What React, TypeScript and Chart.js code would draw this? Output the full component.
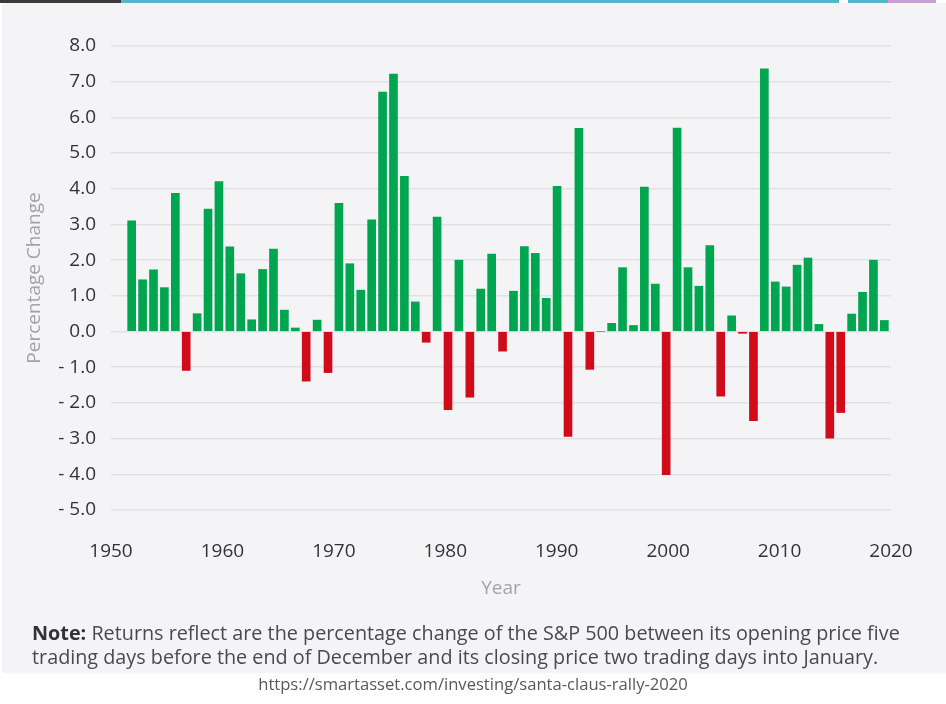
import React, { useEffect, useRef } from "react";
import { Chart, registerables } from "chart.js";

Chart.register(...registerables);

const years = [
  1950, 1951, 1952, 1953, 1954, 1955, 1956, 1957, 1958, 1959,
  1960, 1961, 1962, 1963, 1964, 1965, 1966, 1967, 1968, 1969,
  1970, 1971, 1972, 1973, 1974, 1975, 1976, 1977, 1978, 1979,
  1980, 1981, 1982, 1983, 1984, 1985, 1986, 1987, 1988, 1989,
  1990, 1991, 1992, 1993, 1994, 1995, 1996, 1997, 1998, 1999,
  2000, 2001, 2002, 2003, 2004, 2005, 2006, 2007, 2008, 2009,
  2010, 2011, 2012, 2013, 2014, 2015, 2016, 2017, 2018, 2019,
];

const changes = [
  3.1, 1.45, 1.73, 1.23, 3.87, -1.09, 0.5, 3.43, 4.2, 2.37,
  1.62, 0.33, 1.74, 2.31, 0.6, 0.1, -1.39, 0.32, -1.15, 3.59,
  1.9, 1.16, 3.13, 6.71, 7.21, 4.35, 0.83, -0.3, 3.21, -2.19,
  2.0, -1.84, 1.19, 2.17, -0.55, 1.13, 2.38, 2.19, 0.93, 4.07,
  -2.94, 5.69, -1.06, 0.0, 0.23, 1.79, 0.17, 4.05, 1.33, -4.01,
  5.7, 1.79, 1.27, 2.41, -1.81, 0.44, -0.05, -2.5, 7.36, 1.39,
  1.25, 1.86, 2.06, 0.2, -2.99, -2.27, 0.49, 1.1, 2.0, 0.31,
];

const xTickLabels = ["1950", "1960", "1970", "1980", "1990", "2000", "2010", "2020"];
const yTickLabels = [
  "- 5.0", "- 4.0", "- 3.0", "- 2.0", "- 1.0", "0.0", "1.0",
  "2.0", "3.0", "4.0", "5.0", "6.0", "7.0", "8.0",
];

const GREEN = "#00a550";
const RED = "#d00c1b";
const FONT = "'Open Sans', 'Noto Sans', sans-serif";

export default function App() {
  const ref = useRef<HTMLCanvasElement>(null);

  useEffect(() => {
    if (!ref.current) return;
    const chart = new Chart(ref.current, {
      type: "bar",
      data: {
        datasets: [
          {
            data: years.map((yr, i) => ({ x: yr, y: changes[i] })),
            backgroundColor: changes.map((v) => (v < 0 ? RED : GREEN)),
            barThickness: 8,
            xAxisID: "x",
            yAxisID: "y",
          },
        ],
      },
      options: {
        animation: false,
        responsive: false,
        devicePixelRatio: 1,
        layout: { padding: { top: 46, right: 55, bottom: 0, left: 0 } },
        plugins: {
          legend: { display: false },
          tooltip: { enabled: false },
        },
        scales: {
          x: {
            type: "linear",
            display: false,
            offset: false,
            grid: { offset: false },
            min: years[0] - 1.895,
            max: years[0] + 69.61,
          },
          x2: {
            type: "linear",
            position: "bottom",
            offset: false,
            min: 1950,
            max: 2020,
            grid: { display: false, drawTicks: false, offset: false },
            border: { display: false },
            ticks: {
              stepSize: 10,
              autoSkip: false,
              maxRotation: 0,
              padding: 30,
              color: "#333333",
              font: { family: FONT, size: 19 },
              callback: (_v: any, i: number) => xTickLabels[i],
            },
            title: {
              display: true,
              text: "Year",
              color: "#a3a3a3",
              font: { family: FONT, size: 19 },
              padding: { top: 0, bottom: 19.6 },
            },
            afterFit: (s: any) => {
              s.height = 110;
            },
          },
          y: {
            min: -5,
            max: 8,
            ticks: {
              stepSize: 1,
              padding: 15,
              color: "#333333",
              font: { family: FONT, size: 19 },
              callback: (_v: any, i: number) => yTickLabels[i],
            },
            grid: { color: "#e1e1e5", lineWidth: 1.5, drawTicks: false },
            border: { display: false },
            title: {
              display: true,
              text: "Percentage Change",
              color: "#a3a3a3",
              font: { family: FONT, size: 19 },
              padding: { top: 23.6, bottom: 0 },
            },
            afterFit: (s: any) => {
              s.width = 111;
            },
          },
        },
      } as any,
    });
    return () => chart.destroy();
  }, []);

  return (
    <div
      style={{
        position: "absolute",
        left: 0,
        top: 0,
        width: 946,
        height: 704,
        background: "#ffffff",
        overflow: "hidden",
        fontFamily: FONT,
      }}
    >
      <div style={{ position: "absolute", left: 0, top: 0, width: 121, height: 3, background: "#3a3a3a" }} />
      <div style={{ position: "absolute", left: 121, top: 0, width: 718, height: 3, background: "#55b8c9" }} />
      <div style={{ position: "absolute", left: 848, top: 0, width: 40, height: 3, background: "#55b8c9" }} />
      <div style={{ position: "absolute", left: 888, top: 0, width: 48, height: 3, background: "#c9a0d6" }} />
      <div
        style={{
          position: "absolute",
          left: 2,
          top: 3,
          width: 944,
          height: 670,
          background: "#f4f4f6",
        }}
      />
      <canvas
        ref={ref}
        width={946}
        height={620}
        style={{ position: "absolute", left: 0, top: 0, width: 946, height: 620 }}
      />
      <div
        style={{
          position: "absolute",
          left: 32,
          top: 621,
          fontSize: 19.8,
          lineHeight: "24px",
          color: "#4a4a4a",
          whiteSpace: "nowrap",
        }}
      >
        <span style={{ fontWeight: 700, color: "#333333" }}>Note:</span> Returns reflect are the
        percentage change of the S&amp;P 500 between its opening price five
        <br />
        trading days before the end of December and its closing price two trading days into January.
      </div>
      <div
        style={{
          position: "absolute",
          left: 0,
          width: 946,
          top: 673,
          textAlign: "center",
          fontSize: 16.6,
          lineHeight: "22px",
          color: "#595959",
        }}
      >
        https://smartasset.com/investing/santa-claus-rally-2020
      </div>
    </div>
  );
}
